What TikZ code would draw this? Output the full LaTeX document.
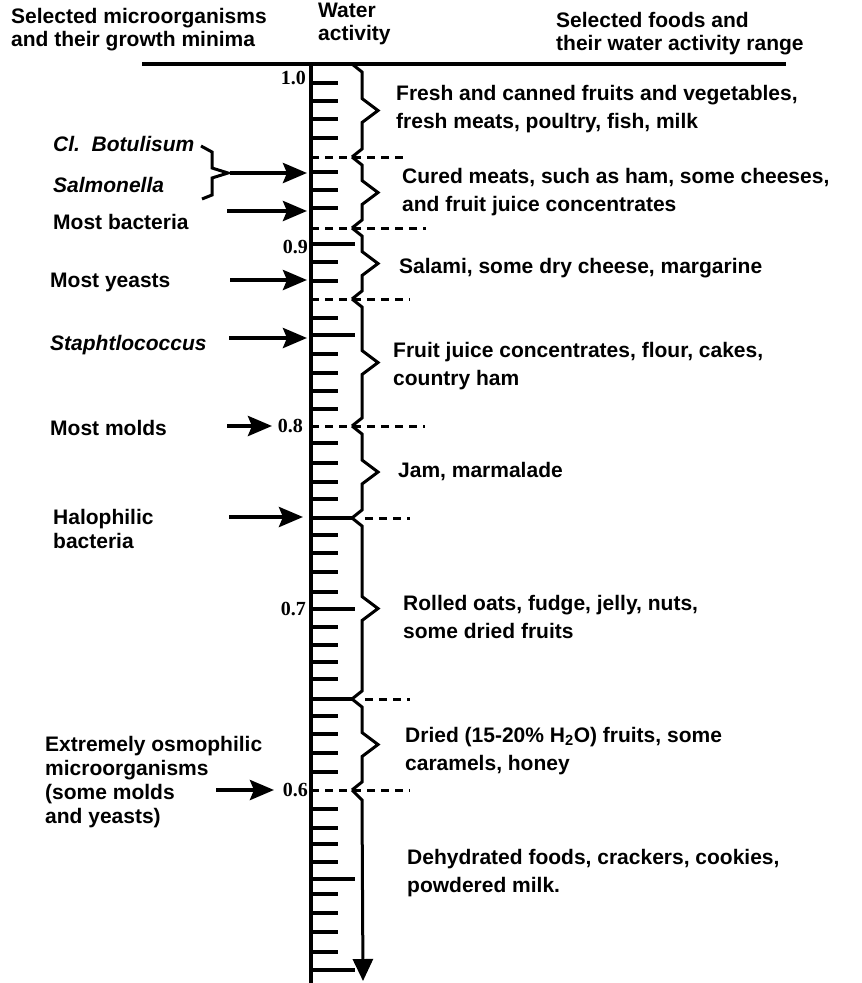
\documentclass[tikz,border=0pt]{standalone}
\usepackage{fontspec}
\setmainfont{Liberation Sans}
\newfontfamily\numfont{Liberation Serif}
\usetikzlibrary{arrows.meta}
\tikzset{
 heading/.style={anchor=west,inner sep=0pt,align=left,font=\bfseries\fontsize{21}{23}\selectfont},
 microbe/.style={anchor=west,inner sep=0pt,align=left,font=\bfseries\fontsize{21}{24}\selectfont},
 germ/.style={microbe,font=\bfseries\itshape\fontsize{21}{24}\selectfont},
 food/.style={anchor=west,inner sep=0pt,align=left,font=\bfseries\fontsize{21}{28}\selectfont},
 awlabel/.style={anchor=east,inner sep=0pt,font=\numfont\bfseries\fontsize{20}{20}\selectfont},
 scaletick/.style={line width=3.5pt},
 cutline/.style={line width=3pt,dash pattern=on 8pt off 6pt},
 foodbrace/.style={line width=3pt,line join=miter},
 arr/.style={-{Stealth[length=24pt,width=20pt,inset=4pt]},line width=4pt}
}
\begin{document}
\begin{tikzpicture}[x=1pt,y=-1pt]
\useasboundingbox (0,0) rectangle (862,983);
% headings
\node[heading] (hdmicrobes) at (11,29.5) {Selected microorganisms\\and their growth minima};
\node[heading] (hdwater) at (318,23.5) {Water\\activity};
\node[heading] (hdfoods) at (556,34) {Selected foods and\\their water activity range};
\draw[line width=3.5pt] (142,64) -- (786,64);
% the scale
\draw[line width=4pt] (311,64) -- (311,983);
\foreach \y in {83,101,119,138,172,190,208,262,281,318,354,373,391,409,443,463,482,499,535,553,572,592,627,645,662,679,716,734,753,772,809,828,844,862,894,913,932,952}
 \draw[scaletick] (311,\y) -- (338,\y);
\foreach \y in {244,335,609,879,970}
 \draw[scaletick] (311,\y) -- (355,\y);
\foreach \y in {518,699}
 \draw[scaletick] (311,\y) -- (352,\y);
\foreach \v/\n/\x/\y in {1.0/10/306/78,0.9/09/308/247,0.8/08/303/426,0.7/07/306/609,0.6/06/308/790}
 \node[awlabel] (aw\n) at (\x,\y) {\v};
% ranges of the foods
\foreach \y/\xa/\xb in {157/311/408,228/311/426,299/311/410,426/311/425,518/365/410,699/365/410,790/311/410}
 \draw[cutline] (\xa,\y) -- (\xb,\y);
\foreach \ya/\yb in {64/157,157/228,228/299,299/426,426/518,518/699,699/790}
 \draw[foodbrace] (352,\ya) -- (362,{\ya+8}) -- (362,{(\ya+\yb)/2-12}) -- (378,{(\ya+\yb)/2})
  -- (362,{(\ya+\yb)/2+12}) -- (362,{\yb-8}) -- (352,\yb);
\draw[foodbrace,-{Triangle[length=22pt,width=20pt]}] (352,790) -- (362,800) -- (363,981);
\node[food] (fresh) at (396,109) {Fresh and canned fruits and vegetables,\\fresh meats, poultry, fish, milk};
\node[food] (cured) at (402,192) {Cured meats, such as ham, some cheeses,\\and fruit juice concentrates};
\node[food] (salami) at (399,268) {Salami, some dry cheese, margarine};
\node[food] (juice) at (393,366.5) {Fruit juice concentrates, flour, cakes,\\country ham};
\node[food] (jam) at (398,472) {Jam, marmalade};
\node[food] (oats) at (403,617) {Rolled oats, fudge, jelly, nuts,\\some dried fruits};
\node[food] (dried) at (405,751) {Dried (15-20\% H\textsubscript{2}O) fruits, some\\caramels, honey};
\node[food] (dehyd) at (407,873) {Dehydrated foods, crackers, cookies,\\powdered milk.};
% microorganisms
\node[germ] (botul) at (53,144) {Cl.~~Botulisum};
\node[germ] (salmo) at (53,185) {Salmonella};
\node[microbe] (bact) at (53,222) {Most bacteria};
\node[microbe] (yeast) at (50,282) {Most yeasts};
\node[germ] (staph) at (50,345) {Staphtlococcus};
\node[microbe] (molds) at (50,428) {Most molds};
\node[microbe] (halo) at (53,528.5) {Halophilic\\bacteria};
\node[microbe] (osmo) at (45,782.5) {Extremely osmophilic\\microorganisms\\(some molds\\and yeasts)};
\draw[foodbrace] (201,146) -- (212,152) -- (212,168) -- (228,173) -- (212,178) -- (212,195) -- (202,199);
\foreach \name/\xa/\xb/\y in {salmo/230/307/173,bact/227/307/211,yeast/230/307/280,staph/229/307/338,molds/227/272/426,halo/229/303/517,osmo/216/274/790} {
 \coordinate (\name-tail) at (\xa,\y);
 \coordinate (\name-head) at (\xb,\y);
 \draw[arr] (\name-tail) -- (\name-head);
}
\end{tikzpicture}
\end{document}
